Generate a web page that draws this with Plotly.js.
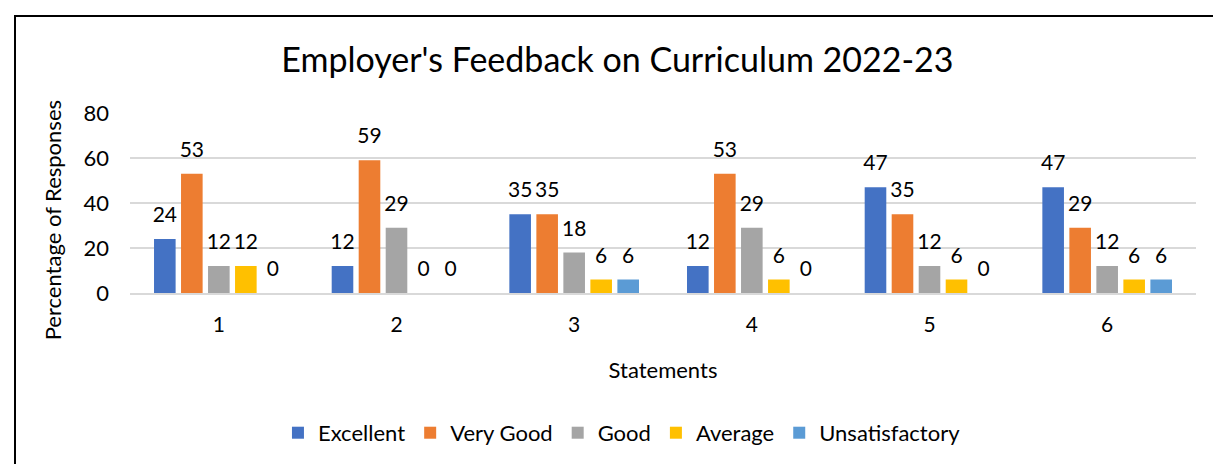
<!DOCTYPE html>
<html>
<head>
<meta charset="utf-8">
<script src="https://cdn.plot.ly/plotly-3.0.1.min.js"></script>
<style>
html,body{margin:0;padding:0;background:#fff;overflow:hidden;}
#chart{width:1213px;height:464px;position:absolute;left:0;top:0;}
#frame{position:absolute;left:14px;top:15px;width:1210px;height:460px;border:2px solid #000;pointer-events:none;box-sizing:border-box;}
</style>
</head>
<body>
<div id="chart"></div>
<div id="frame"></div>
<script>
var categories = ["1", "2", "3", "4", "5", "6"];
var seriesNames = ["Excellent", "Very Good", "Good", "Average", "Unsatisfactory"];
var excellent = [24, 12, 35, 12, 47, 47];
var veryGood = [53, 59, 35, 53, 35, 29];
var good = [12, 29, 18, 29, 12, 12];
var average = [12, 0, 6, 6, 6, 6];
var unsatisfactory = [0, 0, 6, 0, 0, 6];
var yTicks = [0, 20, 40, 60, 80];

var seriesValues = [excellent, veryGood, good, average, unsatisfactory];
var colors = ["#4472C4", "#ED7D31", "#A5A5A5", "#FFC000", "#5B9BD5"];
var FONT = "Lato, 'Open Sans', sans-serif";
var Y_RANGE = [0, 80];
// label layer: same bars on an overlaid axis shifted so labels sit ~10px higher
var LABEL_SHIFT = 4.4;

var traces = seriesNames.map(function (name, i) {
  return {
    type: "bar",
    name: name,
    x: categories,
    y: seriesValues[i],
    marker: {color: colors[i]},
    hoverinfo: "none"
  };
});
var labelTraces = seriesNames.map(function (name, i) {
  return {
    type: "bar",
    name: name,
    x: categories,
    y: seriesValues[i],
    yaxis: "y2",
    showlegend: false,
    marker: {color: "rgba(0,0,0,0)"},
    text: seriesValues[i].map(String),
    textposition: "outside",
    constraintext: "none",
    textfont: {family: FONT, size: 21, color: "#000"},
    cliponaxis: false,
    hoverinfo: "none"
  };
});

var layout = {
  width: 1213,
  height: 464,
  margin: {l: 130, r: 17, t: 113, b: 171},
  paper_bgcolor: "#fff",
  plot_bgcolor: "#fff",
  font: {family: FONT, size: 21, color: "#000"},
  title: {
    text: "Employer's Feedback on Curriculum 2022-23",
    font: {family: FONT, size: 34, color: "#000"},
    xref: "container", x: 0.509, xanchor: "center",
    yref: "container", y: 0.87, yanchor: "middle"
  },
  barmode: "group",
  bargap: 0.24,
  bargroupgap: 0.2,
  xaxis: {
    type: "category",
    showgrid: false,
    showline: true,
    linecolor: "#D9D9D9",
    linewidth: 1.5,
    ticks: "",
    ticklabelstandoff: 12,
    tickfont: {family: FONT, size: 21, color: "#000"},
    title: {text: "Statements", font: {family: FONT, size: 22, color: "#000"}, standoff: 28}
  },
  yaxis: {
    range: Y_RANGE,
    tickvals: yTicks,
    ticktext: yTicks.map(String),
    showgrid: true,
    gridcolor: "#D9D9D9",
    gridwidth: 1.5,
    zeroline: false,
    showline: false,
    ticks: "",
    ticklabelstandoff: 20,
    tickfont: {family: FONT, size: 22, color: "#000"}
  },
  yaxis2: {
    overlaying: "y",
    range: [Y_RANGE[0] - LABEL_SHIFT, Y_RANGE[1] - LABEL_SHIFT],
    visible: false,
    showgrid: false,
    zeroline: false
  },
  annotations: [{
    text: "Percentage of Responses",
    textangle: -90,
    xref: "paper", x: -0.073, xanchor: "center",
    yref: "paper", y: 0.405, yanchor: "middle",
    showarrow: false,
    font: {family: FONT, size: 22, color: "#000"}
  }],
  showlegend: true,
  legend: {
    orientation: "h",
    xref: "paper", x: 0.4615, xanchor: "center",
    yref: "container", y: 0.067, yanchor: "middle",
    font: {family: FONT, size: 22, color: "#000"},
    itemwidth: 20,
    traceorder: "normal"
  }
};

Plotly.newPlot("chart", traces.concat(labelTraces), layout, {displayModeBar: false, staticPlot: true});
</script>
</body>
</html>
